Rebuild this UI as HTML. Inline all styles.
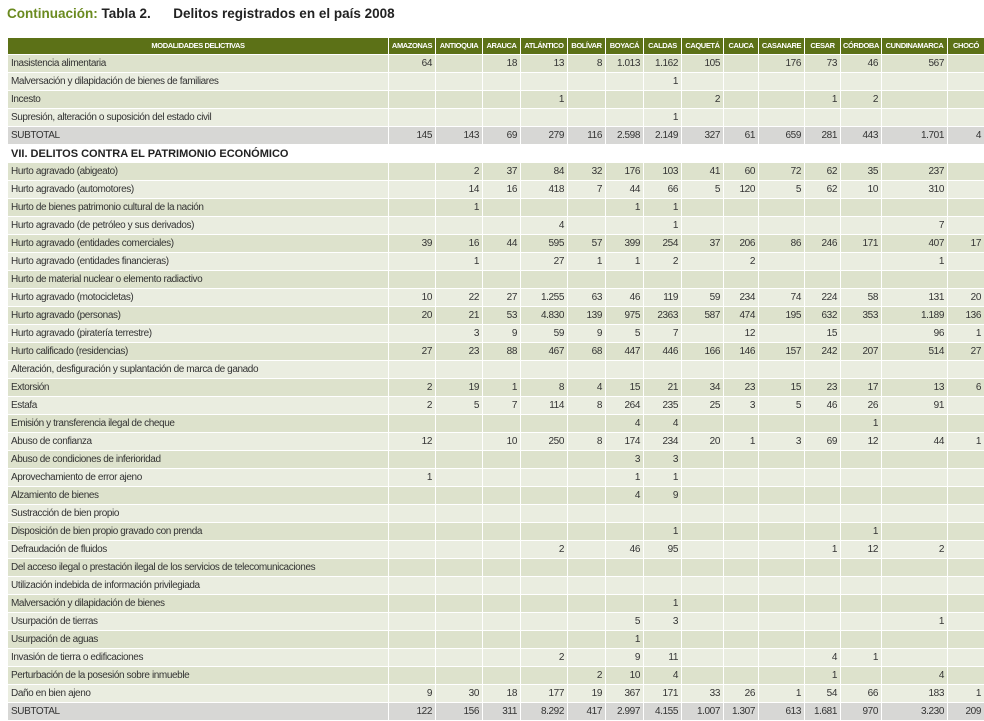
<!DOCTYPE html>
<html><head><meta charset="utf-8">
<style>
body{margin:0;width:984px;height:721px;background:#fff;font-family:"Liberation Sans",sans-serif;overflow:hidden;position:relative}
#title{position:absolute;left:7px;top:6px;font-size:13.5px;font-weight:bold;color:#222;white-space:nowrap}
#title .c{color:#6a8a1f}
table{position:absolute;left:7px;top:37px;border-collapse:collapse;table-layout:fixed;width:977px}
td,th{padding:0 3px;height:17px;border:1px solid #fff;font-size:10px;letter-spacing:-0.4px;color:#333;white-space:nowrap;overflow:hidden;text-align:right;line-height:16px}
th{background:#5c7117;color:#fff;font-size:7.5px;text-align:center;height:15px;letter-spacing:-0.4px;padding:0}
td.l{text-align:left}
tr.a td{background:#dde2cc}
tr.b td{background:#eaede0}
tr.s td{background:#d7d7d5}
tr.h td{background:#fff;font-weight:bold;font-size:11px;color:#222;letter-spacing:0}
</style></head><body>
<div id="title"><span class="c">Continuación:</span> Tabla 2.&nbsp;&nbsp;&nbsp;&nbsp;&nbsp;&nbsp;Delitos registrados en el país 2008</div>
<table id="t">
<colgroup><col style="width:381px"><col style="width:47px"><col style="width:47px"><col style="width:38px"><col style="width:47px"><col style="width:38px"><col style="width:38px"><col style="width:38px"><col style="width:42px"><col style="width:35px"><col style="width:46px"><col style="width:36px"><col style="width:41px"><col style="width:66px"><col style="width:37px"></colgroup>
<thead><tr id="hr"></tr></thead><tbody id="tb"></tbody></table>
<script>
const columns=["MODALIDADES DELICTIVAS","AMAZONAS","ANTIOQUIA","ARAUCA","ATLÁNTICO","BOLÍVAR","BOYACÁ","CALDAS","CAQUETÁ","CAUCA","CASANARE","CESAR","CÓRDOBA","CUNDINAMARCA","CHOCÓ"];
const E=["","","","","","","","","","","","","",""];
function sp(o){const r=E.slice();for(const k in o)r[+k]=o[k];return r;}
const rowLabels=["Inasistencia alimentaria","Malversación y dilapidación de bienes de familiares","Incesto","Supresión, alteración o suposición del estado civil","SUBTOTAL","VII. DELITOS CONTRA EL PATRIMONIO ECONÓMICO","Hurto agravado (abigeato)","Hurto agravado (automotores)","Hurto de bienes patrimonio cultural de la nación","Hurto agravado (de petróleo y sus derivados)","Hurto agravado (entidades comerciales)","Hurto agravado (entidades financieras)","Hurto de material nuclear o elemento radiactivo","Hurto agravado (motocicletas)","Hurto agravado (personas)","Hurto agravado (piratería terrestre)","Hurto calificado (residencias)","Alteración, desfiguración y suplantación de marca de ganado","Extorsión","Estafa","Emisión y transferencia ilegal de cheque","Abuso de confianza","Abuso de condiciones de inferioridad","Aprovechamiento de error ajeno","Alzamiento de bienes","Sustracción de bien propio","Disposición de bien propio gravado con prenda","Defraudación de fluidos","Del acceso ilegal o prestación ilegal de los servicios de telecomunicaciones","Utilización indebida de información privilegiada","Malversación y dilapidación de bienes","Usurpación de tierras","Usurpación de aguas","Invasión de tierra o edificaciones","Perturbación de la posesión sobre inmueble","Daño en bien ajeno","SUBTOTAL"];
const rowValues=[
["64","","18","13","8","1.013","1.162","105","","176","73","46","567",""],
sp({6:"1"}),
sp({3:"1",7:"2",10:"1",11:"2"}),
sp({6:"1"}),
["145","143","69","279","116","2.598","2.149","327","61","659","281","443","1.701","4"],
null,
["","2","37","84","32","176","103","41","60","72","62","35","237",""],
["","14","16","418","7","44","66","5","120","5","62","10","310",""],
sp({1:"1",5:"1",6:"1"}),
sp({3:"4",6:"1",12:"7"}),
["39","16","44","595","57","399","254","37","206","86","246","171","407","17"],
sp({1:"1",3:"27",4:"1",5:"1",6:"2",8:"2",12:"1"}),
E,
["10","22","27","1.255","63","46","119","59","234","74","224","58","131","20"],
["20","21","53","4.830","139","975","2363","587","474","195","632","353","1.189","136"],
["","3","9","59","9","5","7","","12","","15","","96","1"],
["27","23","88","467","68","447","446","166","146","157","242","207","514","27"],
E,
["2","19","1","8","4","15","21","34","23","15","23","17","13","6"],
["2","5","7","114","8","264","235","25","3","5","46","26","91",""],
sp({5:"4",6:"4",11:"1"}),
["12","","10","250","8","174","234","20","1","3","69","12","44","1"],
sp({5:"3",6:"3"}),
sp({0:"1",5:"1",6:"1"}),
sp({5:"4",6:"9"}),
E,
sp({6:"1",11:"1"}),
sp({3:"2",5:"46",6:"95",10:"1",11:"12",12:"2"}),
E,E,
sp({6:"1"}),
sp({5:"5",6:"3",12:"1"}),
sp({5:"1"}),
sp({3:"2",5:"9",6:"11",10:"4",11:"1"}),
sp({4:"2",5:"10",6:"4",10:"1",12:"4"}),
["9","30","18","177","19","367","171","33","26","1","54","66","183","1"],
["122","156","311","8.292","417","2.997","4.155","1.007","1.307","613","1.681","970","3.230","209"]];
const hr=document.getElementById('hr');
columns.forEach(c=>{const th=document.createElement('th');th.textContent=c;


hr.appendChild(th);});
const tb=document.getElementById('tb');let alt=0;
rowLabels.forEach((lab,i)=>{const tr=document.createElement('tr');
const vals=rowValues[i];
if(vals===null){tr.className='h';const td=document.createElement('td');td.colSpan=15;td.className='l';td.textContent=lab;


tr.appendChild(td);alt=0;}
else{
if(lab==='SUBTOTAL')tr.className='s';else{tr.className=alt%2?'b':'a';alt++;}
const td=document.createElement('td');td.className='l';td.textContent=lab;


tr.appendChild(td);
vals.forEach(v=>{const c=document.createElement('td');c.textContent=v;


tr.appendChild(c);});}


tb.appendChild(tr);});
</script>
</body></html>
